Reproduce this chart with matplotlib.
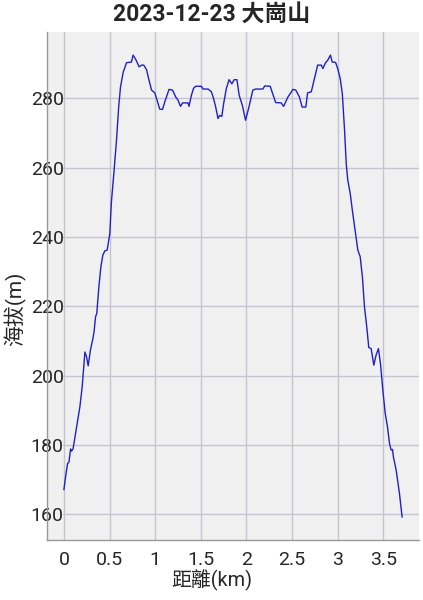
import matplotlib
matplotlib.use('Agg')
import matplotlib.pyplot as plt

plt.rcParams['font.family'] = ['Roboto', 'Noto Sans CJK TC', 'DejaVu Sans']

title = '2023-12-23 大崗山'
xlabel = '距離(km)'
ylabel = '海拔(m)'

# distance (km) and altitude (m)
dist = [0.0, 0.022, 0.04, 0.055, 0.073, 0.084, 0.10, 0.128, 0.15, 0.175,
        0.2, 0.23, 0.248, 0.266, 0.29, 0.314, 0.33, 0.347, 0.36, 0.383,
        0.405, 0.427, 0.449, 0.474, 0.485, 0.503, 0.52, 0.547, 0.576, 0.60,
        0.62, 0.65, 0.686, 0.74, 0.758, 0.788, 0.824, 0.85, 0.875, 0.905,
        0.933, 0.96, 0.996, 1.02, 1.05, 1.08, 1.105, 1.152, 1.19, 1.225,
        1.25, 1.277, 1.30, 1.36, 1.37, 1.397, 1.42, 1.444, 1.506, 1.524,
        1.58, 1.616, 1.64, 1.663, 1.688, 1.707, 1.73, 1.75, 1.78, 1.81,
        1.84, 1.865, 1.896, 1.92, 1.955, 1.99, 2.027, 2.07, 2.10, 2.18,
        2.20, 2.26, 2.28, 2.32, 2.38, 2.407, 2.454, 2.51, 2.54, 2.58,
        2.61, 2.65, 2.67, 2.71, 2.74, 2.78, 2.82, 2.837, 2.866, 2.89,
        2.92, 2.94, 2.976, 3.0, 3.027, 3.05, 3.075, 3.093, 3.11, 3.137,
        3.16, 3.19, 3.22, 3.246, 3.27, 3.293, 3.318, 3.34, 3.366, 3.395,
        3.42, 3.446, 3.468, 3.494, 3.52, 3.545, 3.567, 3.585, 3.60, 3.61,
        3.64, 3.676, 3.705]
alt = [167.1, 171.5, 174.6, 175.0, 178.8, 178.2, 178.8, 183.3, 187.0, 191.0,
       196.7, 206.8, 205.4, 202.8, 207.3, 210.2, 212.6, 217.0, 217.9, 225.6,
       231.4, 234.8, 236.0, 236.2, 238.1, 241.0, 250.0, 258.3, 267.9, 277.5,
       283.3, 287.6, 290.3, 290.5, 292.5, 291.2, 289.1, 289.6, 289.6, 288.3,
       285.2, 282.4, 281.6, 279.5, 276.9, 276.8, 279.0, 282.6, 282.4, 280.4,
       279.5, 277.7, 278.7, 278.7, 277.7, 280.9, 282.9, 283.5, 283.5, 282.7,
       282.7, 281.9, 279.9, 277.5, 274.2, 275.1, 274.8, 278.5, 282.9, 285.4,
       284.2, 285.4, 285.4, 280.9, 278.0, 273.7, 277.5, 282.4, 282.7, 282.7,
       283.6, 283.5, 281.9, 278.8, 278.7, 277.7, 280.4, 282.6, 282.4, 280.4,
       277.5, 277.5, 281.6, 281.9, 285.2, 289.6, 289.6, 288.6, 290.3, 291.0,
       292.5, 290.5, 290.4, 288.6, 285.7, 281.4, 270.7, 261.1, 256.4, 252.5,
       247.7, 242.0, 236.2, 234.3, 228.5, 219.8, 214.0, 208.1, 207.8, 203.0,
       205.9, 207.8, 203.5, 195.8, 189.1, 185.2, 180.4, 178.5, 178.7, 176.5,
       172.7, 166.0, 159.2]

xticks = [0, 0.5, 1, 1.5, 2, 2.5, 3, 3.5]
xticklabels = ['0', '0.5', '1', '1.5', '2', '2.5', '3', '3.5']
yticks = [160, 180, 200, 220, 240, 260, 280]

bg = '#f0f0f0'
gridc = '#c4c4d2'
txt = '#262626'

fig = plt.figure(figsize=(4.23, 6.0), dpi=100)
ax = fig.add_axes([47/423, 60/600, 372/423, 508/600])
ax.set_facecolor(bg)

ax.plot(dist, alt, color='#2020c8', lw=1.0, zorder=3)

ax.set_xticks(xticks)
ax.set_xticklabels(xticklabels)
ax.set_yticks(yticks)
ax.margins(x=0.05, y=0.05)

# vertical grid full height, horizontal grid starts right of the labels
ax.grid(axis='x', color=gridc, lw=1.0, zorder=1)
for v in yticks:
    ax.axhline(v, xmin=0.043, xmax=1, color=gridc, lw=1.0, zorder=1)

for s in ['top', 'right']:
    ax.spines[s].set_visible(False)
for s in ['left', 'bottom']:
    ax.spines[s].set_color('#999999')
    ax.spines[s].set_linewidth(1.0)

ax.tick_params(axis='x', length=0, pad=8, labelsize=14, colors=txt)
ax.tick_params(axis='y', length=0, pad=-12, labelsize=14, colors=txt)
for lab in ax.get_yticklabels():
    lab.set_zorder(5)

fig.text(211.5/423, 1 - 14/600, title, ha='center', va='center',
         fontsize=16.5, fontweight='bold', color=txt)
fig.text(211.5/423, 1 - 580/600, xlabel, ha='center', va='center',
         fontsize=14.3, color=txt)
fig.text(15/423, 1 - 309/600, ylabel, ha='center', va='center',
         rotation=90, fontsize=15, color=txt)

fig.savefig('out.png', dpi=100, facecolor='white')
